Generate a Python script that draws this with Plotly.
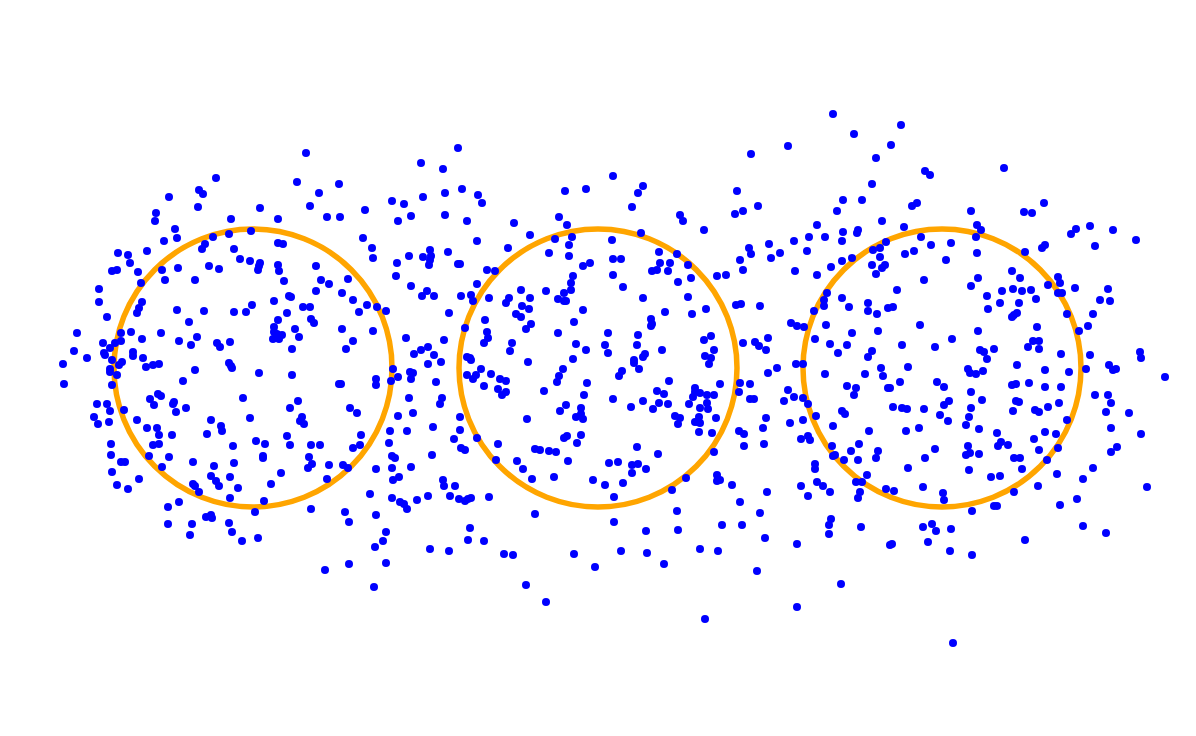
import plotly.graph_objects as go

# circle centres and radii (chart units)
circle_cx = [253, 598, 942]
circle_cy = [368, 368, 368]
circle_r = [139, 139, 139]

# scatter points, read region by region (x, y)
pts_top_left = [
    (306, 153), (216, 178), (297, 182), (199, 190), (203, 194), (319, 193), (169, 197), (198, 207),
    (310, 206), (260, 208), (156, 213), (155, 221), (327, 217), (231, 219), (278, 219), (175, 229),
    (251, 231), (177, 238), (213, 237), (229, 234), (164, 241), (205, 244), (202, 249), (278, 243),
    (283, 244), (234, 249), (118, 253), (128, 255), (147, 251), (130, 263), (240, 259), (250, 261),
    (260, 263), (259, 266), (258, 270), (112, 271), (117, 270), (138, 272), (162, 270), (178, 268),
    (209, 266), (219, 269), (278, 265), (279, 271), (316, 266), (141, 283), (165, 280), (195, 280),
    (284, 281), (321, 280), (329, 284), (99, 289),
]
pts_top_mid = [
    (458, 148), (421, 163), (443, 169), (339, 184), (462, 189), (445, 193), (423, 197), (478, 195),
    (482, 203), (392, 201), (404, 204), (365, 210), (340, 217), (411, 216), (445, 215), (398, 221),
    (467, 221), (514, 223), (565, 191), (586, 189), (613, 176), (559, 217), (567, 225), (530, 235),
    (555, 239), (572, 237), (569, 245), (612, 240), (363, 238), (372, 248), (373, 258), (477, 241),
    (508, 248), (549, 253), (569, 256), (430, 250), (448, 252), (409, 256), (423, 257), (431, 256),
    (430, 260), (429, 265), (397, 263), (458, 264), (460, 264), (590, 263), (583, 266), (613, 259),
    (487, 270), (495, 271), (396, 276), (348, 279), (573, 276), (613, 275), (411, 286), (477, 284),
    (571, 283),
]
pts_top_right = [
    (833, 114), (854, 134), (891, 145), (788, 146), (751, 154), (876, 158), (643, 186), (638, 193),
    (737, 191), (872, 184), (632, 207), (758, 206), (743, 211), (735, 214), (843, 200), (862, 200),
    (837, 211), (680, 215), (683, 221), (882, 221), (704, 230), (641, 233), (817, 225), (858, 230),
    (857, 233), (843, 232), (809, 237), (825, 237), (794, 241), (842, 241), (769, 244), (749, 248),
    (751, 254), (780, 253), (771, 258), (807, 251), (886, 242), (873, 250), (880, 248), (880, 257),
    (659, 252), (677, 254), (621, 259), (740, 260), (743, 270), (660, 263), (670, 263), (852, 258),
    (842, 261), (688, 265), (652, 271), (657, 270), (668, 271), (795, 271), (831, 267), (872, 265),
    (885, 265), (882, 268), (876, 274), (717, 276), (726, 275), (691, 278), (817, 275), (678, 282),
    (623, 287),
    (901, 125), (925, 171), (930, 175), (1004, 168), (912, 206), (917, 203), (971, 211), (1044, 203),
    (1024, 212), (1032, 213), (904, 227), (977, 225), (981, 230), (921, 237), (951, 243), (931, 245),
    (976, 237), (914, 251), (905, 254), (977, 253), (946, 260), (1025, 252), (1042, 248), (1045, 245),
    (1071, 234), (1076, 229), (1090, 226), (1113, 230), (1136, 240), (1095, 246), (1012, 271),
    (1020, 278), (978, 278), (924, 280), (971, 286), (1058, 277), (1060, 283), (1048, 285),
    (1075, 288), (1108, 289),
]
pts_mid_left = [
    (99, 302), (142, 302), (139, 308), (137, 313), (107, 317), (177, 310), (204, 311), (234, 312),
    (246, 312), (252, 305), (274, 301), (289, 296), (291, 297), (316, 291), (303, 307), (310, 307),
    (287, 313), (278, 320), (311, 319), (314, 323), (189, 322), (295, 329), (274, 327), (274, 332),
    (277, 334), (282, 335), (273, 339), (279, 339), (299, 337), (77, 333), (131, 332), (121, 333),
    (161, 333), (142, 339), (121, 341), (197, 337), (179, 341), (191, 345), (103, 343), (115, 343),
    (110, 348), (74, 351), (87, 358), (104, 353), (105, 355), (133, 352), (133, 356), (143, 358),
    (112, 360), (122, 362), (119, 365), (146, 367), (153, 365), (159, 364), (217, 343), (220, 347),
    (230, 342), (292, 349), (229, 363), (231, 366), (232, 368), (195, 370), (63, 364), (110, 369),
    (110, 372), (117, 375), (259, 373), (292, 375), (64, 384), (112, 385), (183, 381), (158, 394),
    (161, 396), (150, 399), (154, 405), (174, 402), (173, 404), (243, 398), (298, 401), (290, 408),
    (97, 404), (107, 404), (110, 411), (124, 410), (176, 412), (186, 408), (94, 417), (98, 424),
    (109, 422), (137, 420), (211, 420), (250, 418), (302, 417), (300, 421), (304, 424), (147, 428),
    (157, 428), (159, 435), (172, 435), (221, 426), (222, 431), (207, 434), (287, 436), (256, 441),
    (265, 444), (111, 444), (153, 445), (159, 444), (233, 446), (290, 445), (311, 445), (320, 445),
    (111, 455), (149, 456), (169, 457), (263, 456), (263, 458), (121, 462), (125, 462), (193, 462),
    (214, 466), (234, 463), (162, 467), (309, 457), (312, 464), (308, 468), (329, 465),
]
pts_mid_mid = [
    (342, 293), (353, 300), (359, 312), (367, 305), (377, 307), (386, 311), (422, 296), (427, 291),
    (434, 296), (449, 313), (461, 296), (471, 295), (473, 301), (489, 298), (509, 298), (506, 303),
    (521, 290), (530, 298), (522, 306), (529, 309), (516, 314), (521, 317), (546, 291), (564, 293),
    (558, 299), (564, 301), (566, 301), (571, 290), (583, 310), (485, 320), (531, 324), (526, 329),
    (574, 322), (342, 329), (373, 331), (465, 328), (487, 332), (488, 338), (484, 343), (558, 333),
    (608, 333), (406, 338), (444, 340), (353, 341), (346, 349), (512, 343), (510, 351), (576, 344),
    (586, 350), (605, 345), (608, 353), (421, 350), (428, 347), (414, 354), (434, 355), (441, 362),
    (428, 364), (467, 357), (470, 358), (471, 360), (573, 359), (528, 362), (393, 369), (410, 372),
    (413, 373), (411, 379), (398, 377), (391, 381), (376, 379), (376, 385), (339, 384), (341, 384),
    (436, 382), (481, 369), (467, 375), (476, 375), (473, 379), (491, 374), (484, 386), (500, 379),
    (506, 381), (498, 389), (506, 392), (502, 395), (563, 369), (559, 376), (557, 382), (587, 383),
    (544, 391), (584, 395), (613, 399), (409, 398), (442, 398), (440, 404), (350, 408), (357, 413),
    (398, 416), (413, 413), (460, 417), (527, 419), (566, 405), (560, 411), (581, 408), (576, 417),
    (581, 414), (583, 419), (433, 427), (460, 430), (390, 431), (407, 431), (361, 435), (360, 445),
    (353, 448), (389, 443), (454, 439), (477, 438), (461, 448), (465, 450), (498, 444), (564, 438),
    (567, 436), (581, 435), (577, 443), (535, 449), (540, 450), (549, 451), (556, 452), (432, 455),
    (392, 456), (395, 458), (496, 460), (517, 461), (568, 461), (609, 463), (343, 465), (348, 468),
    (376, 469), (392, 468), (411, 467), (523, 469),
]
pts_mid_right = [
    (643, 298), (688, 297), (665, 312), (692, 314), (706, 309), (651, 319), (652, 324), (651, 326),
    (736, 305), (741, 304), (760, 306), (638, 335), (637, 345), (662, 350), (704, 340), (711, 336),
    (714, 350), (705, 356), (711, 358), (709, 364), (645, 354), (643, 357), (634, 360), (634, 363),
    (639, 369), (622, 371), (619, 376), (743, 343), (755, 342), (759, 346), (768, 338), (766, 350),
    (791, 323), (797, 326), (804, 327), (814, 311), (824, 300), (824, 306), (827, 293), (842, 298),
    (849, 307), (868, 303), (868, 311), (877, 314), (888, 308), (893, 307), (826, 325), (852, 333),
    (878, 331), (815, 339), (830, 344), (847, 345), (838, 353), (872, 351), (868, 357), (796, 364),
    (803, 364), (777, 368), (768, 373), (825, 374), (865, 374), (881, 368), (883, 376), (669, 381),
    (720, 384), (740, 383), (750, 384), (739, 392), (750, 399), (754, 399), (788, 390), (794, 397),
    (784, 401), (803, 398), (808, 404), (847, 386), (856, 388), (854, 395), (888, 388), (890, 388),
    (893, 407), (657, 391), (664, 394), (695, 388), (695, 392), (693, 397), (700, 393), (707, 395),
    (714, 395), (707, 403), (708, 409), (700, 408), (689, 404), (659, 403), (668, 404), (643, 401),
    (631, 407), (653, 409), (675, 416), (680, 418), (678, 424), (716, 418), (699, 417), (698, 422),
    (695, 422), (700, 423), (699, 432), (712, 433), (766, 418), (763, 428), (739, 431), (744, 434),
    (790, 423), (803, 420), (816, 416), (842, 411), (845, 414), (833, 426), (869, 431), (801, 439),
    (808, 436), (810, 440), (764, 444), (744, 446), (637, 447), (658, 454), (714, 452), (832, 446),
    (859, 444), (851, 451), (878, 451), (833, 456), (835, 455), (844, 460), (858, 460), (876, 458),
    (618, 462), (632, 465), (638, 464), (646, 469), (815, 464), (815, 469),
    (897, 290), (987, 296), (1002, 291), (1013, 289), (1022, 291), (1031, 290), (1058, 293),
    (1062, 293), (1100, 300), (1110, 301), (1036, 299), (1019, 303), (1000, 303), (988, 309),
    (1017, 313), (1012, 317), (1014, 315), (1067, 314), (1093, 314), (1088, 326), (920, 325),
    (1037, 327), (978, 331), (1079, 331), (952, 339), (902, 345), (935, 347), (1033, 341),
    (1039, 341), (1028, 347), (1039, 349), (980, 350), (984, 352), (994, 349), (987, 359),
    (1061, 354), (1090, 355), (1140, 352), (1141, 358), (908, 367), (968, 369), (970, 373),
    (976, 374), (983, 371), (1017, 365), (1045, 370), (1069, 372), (1086, 369), (1109, 365),
    (1113, 370), (1116, 369), (1165, 377), (900, 382), (937, 382), (944, 387), (1012, 385),
    (1016, 384), (1029, 383), (1045, 387), (1061, 387), (971, 392), (1095, 395), (1108, 395),
    (1111, 403), (982, 400), (949, 401), (944, 405), (902, 408), (907, 409), (924, 409), (971, 408),
    (1016, 401), (1019, 402), (1013, 411), (1035, 410), (1039, 412), (1048, 407), (1059, 403),
    (1106, 412), (1129, 413), (940, 415), (969, 417), (948, 421), (966, 425), (1067, 420),
    (906, 431), (919, 428), (979, 429), (997, 433), (1045, 432), (1056, 434), (1111, 428),
    (1141, 434), (1034, 439), (1001, 442), (998, 446), (1008, 445), (968, 446), (935, 449),
    (1039, 450), (1058, 448), (1117, 447), (1111, 452), (970, 453), (966, 455), (979, 454),
    (925, 458), (1014, 458), (1020, 458), (1047, 460), (908, 468), (969, 470), (1022, 469),
    (1093, 468),
]
pts_bottom = [
    (112, 472), (117, 485), (128, 489), (139, 479), (211, 476), (216, 481), (219, 486), (193, 484),
    (195, 486), (199, 492), (230, 477), (238, 488), (230, 498), (271, 484), (281, 473), (264, 501),
    (255, 512), (327, 479), (311, 509), (168, 507), (179, 502), (168, 524), (206, 517), (211, 515),
    (212, 518), (192, 524), (190, 535), (229, 523), (232, 532), (242, 541), (258, 538), (325, 570),
    (393, 480), (399, 477), (370, 494), (392, 498), (400, 502), (404, 504), (407, 509), (417, 500),
    (428, 496), (443, 480), (444, 486), (455, 486), (450, 496), (459, 499), (465, 501), (468, 499),
    (471, 498), (489, 497), (345, 512), (349, 522), (376, 515), (386, 532), (383, 541), (375, 547),
    (349, 564), (386, 563), (374, 587), (430, 549), (449, 551), (470, 528), (468, 540), (484, 541),
    (504, 554), (513, 555), (532, 479), (554, 477), (535, 514), (593, 480), (605, 485), (614, 497),
    (614, 522), (574, 554), (595, 567), (526, 585), (546, 602),
    (632, 473), (623, 483), (621, 551), (646, 531), (647, 553), (664, 564), (672, 490), (686, 478),
    (677, 511), (678, 530), (700, 549), (718, 551), (717, 475), (717, 481), (720, 480), (732, 485),
    (740, 502), (722, 525), (742, 525), (767, 492), (760, 513), (765, 538), (757, 571), (705, 619),
    (797, 544), (797, 607), (841, 584), (801, 486), (808, 496), (817, 482), (823, 486), (830, 492),
    (831, 519), (829, 525), (829, 534), (856, 482), (862, 482), (867, 475), (860, 492), (858, 498),
    (861, 527), (886, 489), (894, 491), (890, 545), (892, 544),
    (923, 487), (943, 493), (944, 500), (972, 511), (991, 477), (1000, 476), (1014, 492),
    (1038, 486), (994, 506), (997, 506), (1057, 474), (1083, 479), (1077, 499), (1060, 505),
    (1147, 487), (923, 527), (932, 524), (936, 531), (951, 529), (928, 542), (950, 551), (972, 555),
    (1025, 540), (1083, 526), (1106, 533), (953, 643),
]

all_pts = pts_top_left + pts_top_mid + pts_top_right + pts_mid_left + pts_mid_mid + pts_mid_right + pts_bottom
xs = [p[0] for p in all_pts]
ys = [p[1] for p in all_pts]

fig = go.Figure()

# 파란 점들
fig.add_trace(
    go.Scatter(
        x=xs,
        y=ys,
        mode="markers",
        marker=dict(size=8, color="#0000FF"),
        showlegend=False,
    )
)

# 주황색 원
for cx, cy, r in zip(circle_cx, circle_cy, circle_r):
    fig.add_shape(
        type="circle",
        xref="x",
        yref="y",
        x0=cx - r,
        x1=cx + r,
        y0=cy - r,
        y1=cy + r,
        line=dict(color="#FFA500", width=5.5),
        layer="below",
    )

# 페이지 여백(8px)을 감안한 크기와 범위
fig.update_layout(
    width=1188,
    height=728,
    margin=dict(l=0, r=0, t=0, b=0),
    plot_bgcolor="white",
    paper_bgcolor="white",
    xaxis=dict(range=[8, 1196], visible=False),
    yaxis=dict(range=[736, 8], visible=False),
    showlegend=False,
)
fig.write_html("out.html")
